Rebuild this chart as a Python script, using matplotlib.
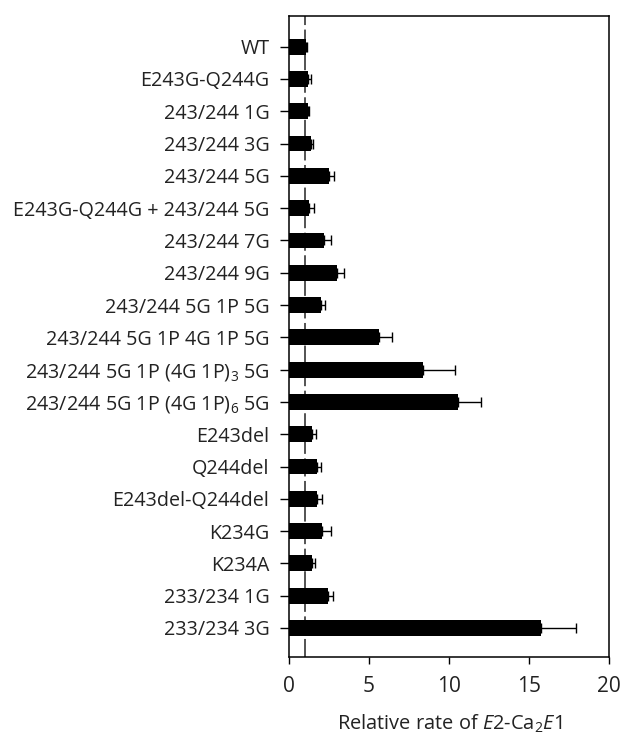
import matplotlib
matplotlib.use('Agg')
import matplotlib.pyplot as plt
import numpy as np

plt.rcParams['font.family'] = ['Open Sans', 'DejaVu Sans']
plt.rcParams['mathtext.fontset'] = 'custom'
plt.rcParams['mathtext.rm'] = 'Open Sans'
plt.rcParams['mathtext.it'] = 'Open Sans:italic'

labels = ['WT', 'E243G-Q244G', '243/244 1G', '243/244 3G', '243/244 5G',
          'E243G-Q244G + 243/244 5G', '243/244 7G', '243/244 9G',
          '243/244 5G 1P 5G', '243/244 5G 1P 4G 1P 5G',
          '243/244 5G 1P (4G 1P)$_3$ 5G', '243/244 5G 1P (4G 1P)$_6$ 5G',
          'E243del', 'Q244del', 'E243del-Q244del', 'K234G', 'K234A',
          '233/234 1G', '233/234 3G']
rates = [1.06, 1.21, 1.19, 1.35, 2.52, 1.27, 2.21, 2.98, 1.98, 5.6,
         8.4, 10.54, 1.44, 1.75, 1.75, 2.06, 1.44, 2.46, 15.73]
errs = [0.05, 0.14, 0.04, 0.13, 0.29, 0.29, 0.41, 0.46, 0.29, 0.84,
        1.95, 1.44, 0.27, 0.28, 0.29, 0.54, 0.21, 0.31, 2.19]

fig = plt.figure(figsize=(6.24, 7.36), dpi=100)
ax = fig.add_axes([0.463, 0.1077, 0.5135, 0.871])

y = np.arange(len(labels))
# reference level at rate = 1
ax.axvline(1, color='#444444', lw=1.3, dashes=(10, 2.5), zorder=1)
ax.barh(y, rates, height=0.49, color='black', zorder=2,
        xerr=[np.zeros(len(errs)), errs], capsize=3.5,
        error_kw=dict(ecolor='black', elinewidth=1, capthick=1))

ax.set_xlim(0, 20)
ax.set_ylim(18.89, -0.96)
ax.set_xticks([0, 5, 10, 15, 20])
ax.set_yticks(y)
ax.set_yticklabels(labels, fontsize=14.2, color='#222222')
ax.tick_params(axis='x', labelsize=15, labelcolor='#222222', length=5, width=1, pad=9)
ax.tick_params(axis='y', length=6.5, width=1, pad=7.5)
for s in ax.spines.values():
    s.set_linewidth(1.1)

ax.set_xlabel('Relative rate of $\\mathit{E}$2-Ca$_2$$\\mathit{E}$1', fontsize=14.4,
              color='#222222', labelpad=11)

fig.savefig('out.png', dpi=100)
